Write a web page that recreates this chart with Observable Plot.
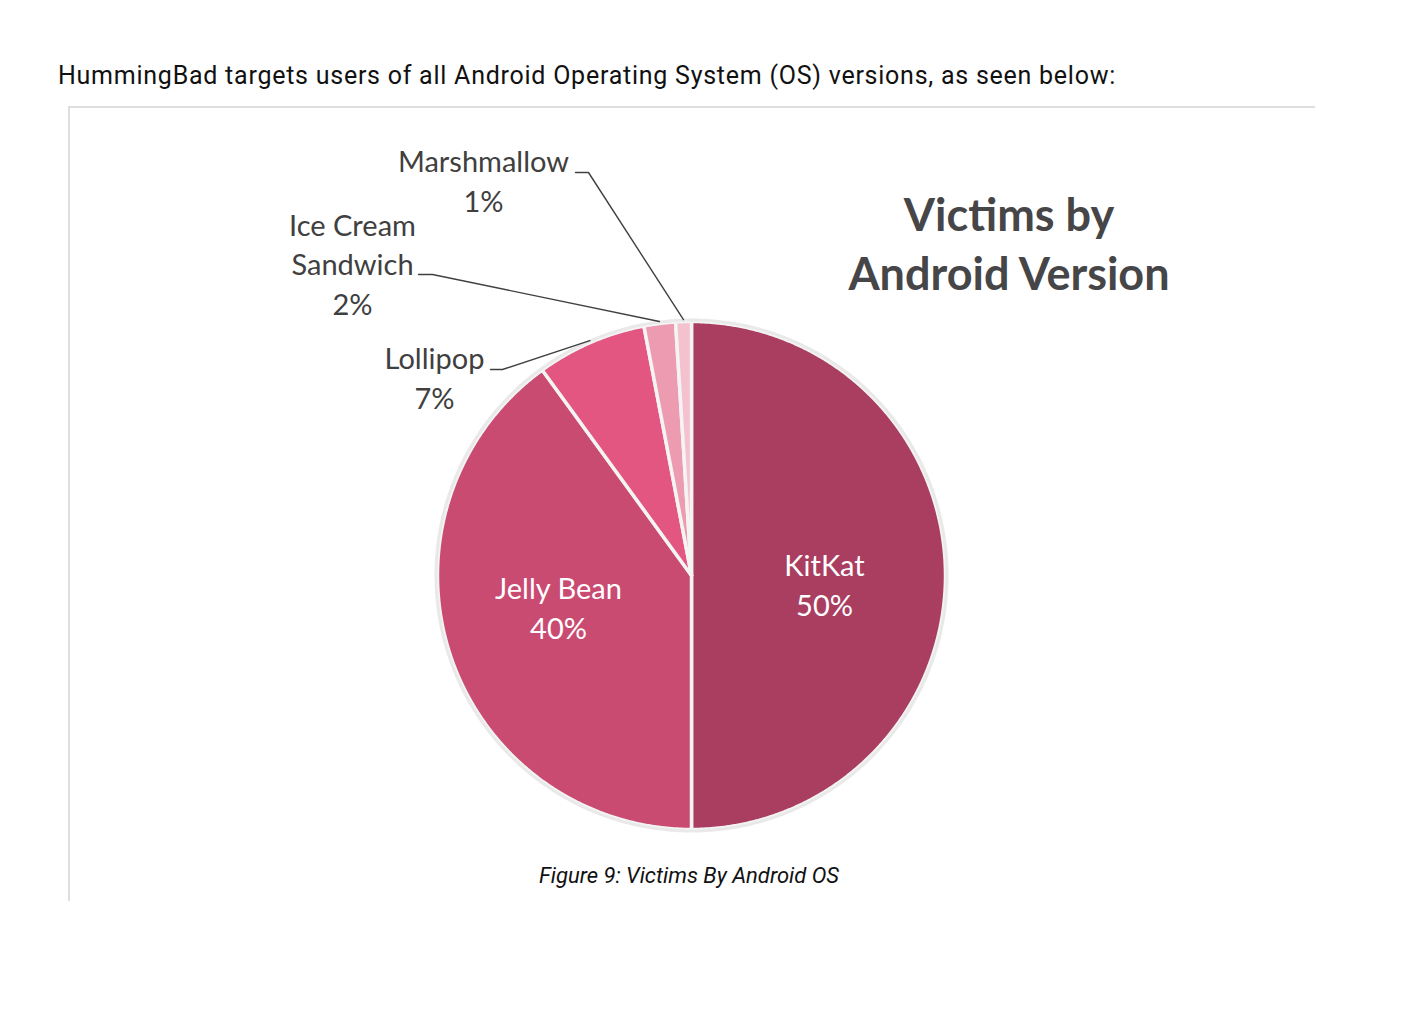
<!DOCTYPE html>
<html>
<head>
<meta charset="utf-8">
<script src="https://cdn.jsdelivr.net/npm/d3@7"></script>
<script src="https://cdn.jsdelivr.net/npm/@observablehq/plot@0.6"></script>
<style>
  html, body { margin: 0; padding: 0; background: #fff; }
  #page { position: relative; width: 1414px; height: 1026px; overflow: hidden; }
  #page svg { position: absolute; left: 0; top: 0; }
  .abs { position: absolute; white-space: nowrap; }
  #header { left: 58px; top: 61px; font: 25px Roboto, sans-serif; color: #111; letter-spacing: 0.75px; }
  #boxTop { left: 68px; top: 106px; width: 1247px; height: 0; border-top: 2px solid #dedede; }
  #boxLeft { left: 68px; top: 106px; width: 0; height: 795px; border-left: 2px solid #dedede; }
  #title { left: 1009px; top: 185px; transform: translateX(-50%); text-align: center; font: bold 45px Lato, sans-serif; line-height: 59px; color: #464648; }
  #caption { left: 689px; top: 863px; transform: translateX(-50%); font: italic 22px Roboto, sans-serif; color: #111; }
</style>
</head>
<body>
<div id="page">
  <div id="header" class="abs">HummingBad targets users of all Android Operating System (OS) versions, as seen below:</div>
  <div id="boxTop" class="abs"></div>
  <div id="boxLeft" class="abs"></div>
  <div id="title" class="abs">Victims by<br>Android Version</div>
  <div id="caption" class="abs">Figure 9: Victims By Android OS</div>
</div>
<script>
// ---- data ----
const versions = ["KitKat", "Jelly Bean", "Lollipop", "Ice Cream Sandwich", "Marshmallow"];
const shares = [50, 40, 7, 2, 1];
const labelNames = ["KitKat", "Jelly Bean", "Lollipop", "Ice Cream\nSandwich", "Marshmallow"];

// ---- styles / layout ----
const palette = ["#A93E60", "#C94B72", "#E25681", "#EC9BB1", "#F4C2CE"];
const W = 1414, H = 1026;
const cx = 691, cy = 575, R = 254;
// label placements (pixel layout, not data)
const insideLabel = {
  "KitKat": {x: 824, y: 583},
  "Jelly Bean": {x: 558, y: 606}
};
const outsideLabel = {
  "Lollipop": {x: 434, y: 376, hx0: 490, hx1: 502, hy: 369},
  "Ice Cream Sandwich": {x: 352, y: 262, hx0: 418, hx1: 432, hy: 274},
  "Marshmallow": {x: 483, y: 179, hx0: 575, hx1: 588, hy: 172}
};

const arcs = d3.pie().sort(null).value(d => d)(shares);
const pt = (a, r) => [cx + r * Math.sin(a), cy - r * Math.cos(a)];

const sliceMarks = arcs.map((a, i) => {
  const pts = [{x: cx, y: cy}];
  const n = Math.max(4, Math.ceil((a.endAngle - a.startAngle) / 0.005));
  for (let k = 0; k <= n; k++) {
    const ang = a.startAngle + (a.endAngle - a.startAngle) * k / n;
    const [x, y] = pt(ang, R);
    pts.push({x, y});
  }
  return Plot.line(pts, {x: "x", y: "y", curve: "linear-closed", fill: palette[i], stroke: "#f4f4f4", strokeWidth: 3.5, strokeLinejoin: "round"});
});

const rim = [];
for (let k = 0; k <= 720; k++) {
  const [x, y] = pt(2 * Math.PI * k / 720, R + 1.5);
  rim.push({x, y});
}

const leaders = [];
const outsideTexts = [];
const insideTexts = [];
arcs.forEach((a, i) => {
  const name = versions[i];
  const text = labelNames[i] + "\n" + shares[i] + "%";
  if (insideLabel[name]) {
    insideTexts.push({x: insideLabel[name].x, y: insideLabel[name].y, text});
  } else {
    const L = outsideLabel[name];
    const mid = (a.startAngle + a.endAngle) / 2;
    const [ex, ey] = pt(mid, R + 2);
    leaders.push({name, x: L.hx0, y: L.hy}, {name, x: L.hx1, y: L.hy}, {name, x: ex, y: ey});
    outsideTexts.push({x: L.x, y: L.y, text});
  }
});

const chart = Plot.plot({
  width: W,
  height: H,
  margin: 0,
  x: {domain: [0, W], range: [0, W], axis: null},
  y: {domain: [0, H], range: [0, H], axis: null},
  marks: [
    ...sliceMarks,
    Plot.line(rim, {x: "x", y: "y", stroke: "#e9e9e9", strokeWidth: 3}),
    Plot.line(leaders, {x: "x", y: "y", z: "name", stroke: "#404040", strokeWidth: 1.4}),
    Plot.text(outsideTexts, {x: "x", y: "y", text: "text", fill: "#404040", fontSize: 29, fontFamily: "Lato, sans-serif", lineHeight: 1.36, textAnchor: "middle"}),
    Plot.text(insideTexts, {x: "x", y: "y", text: "text", fill: "#ffffff", fontSize: 29, fontFamily: "Lato, sans-serif", lineHeight: 1.36, textAnchor: "middle"})
  ]
});
document.getElementById("page").prepend(chart);
</script>
</body>
</html>
